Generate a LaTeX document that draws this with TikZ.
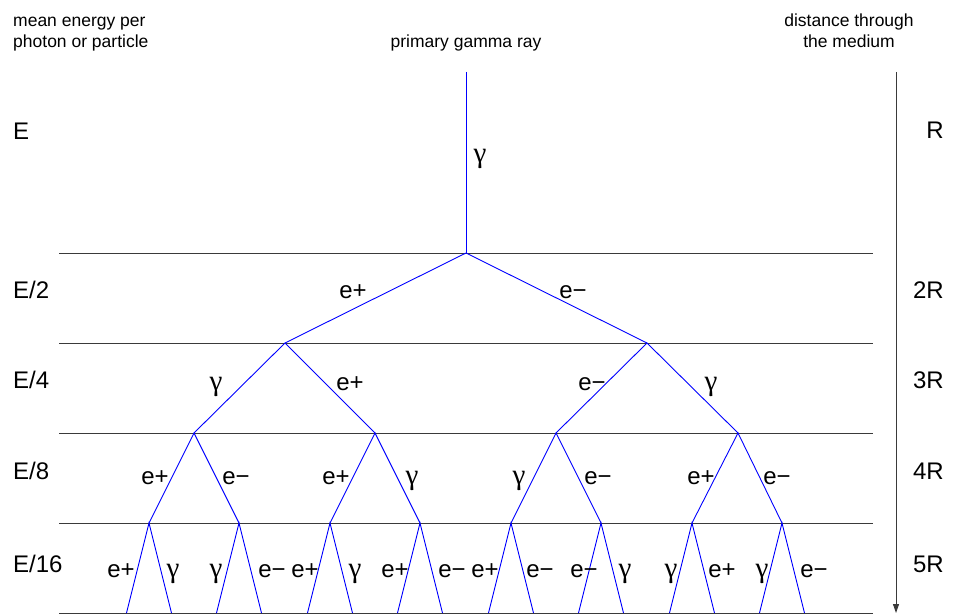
\documentclass[tikz,border=0pt]{standalone}
\usepackage{fontspec}
\setmainfont{Liberation Sans}
\newfontfamily\grk{Liberation Serif}
\usetikzlibrary{arrows.meta}
\definecolor{trackblue}{HTML}{0000FF}
\definecolor{rule}{HTML}{3A3A3A}
\newcommand{\gam}{{\grk\fontsize{29}{30}\selectfont γ}}

\begin{document}
\begin{tikzpicture}[x=1pt, y=-1pt,
  level/.style={rule, line width=0.9pt},
  track/.style={trackblue, line width=0.9pt},
  big/.style={font=\fontsize{24}{28}\selectfont, inner sep=0pt, anchor=base},
  note/.style={font=\fontsize{17.5}{21}\selectfont, inner sep=0pt, anchor=base}]

\useasboundingbox (0,0) rectangle (953,615);

%% Header texts
\node[note, anchor=base west, align=left] (hdrE) at (13,48) {mean energy per\\photon or particle};
\node[note] (hdrP) at (466,48) {primary gamma ray};
\node[note, align=center] (hdrD) at (849,48) {distance through\\the medium};

%% Generation lines
\draw[level] (59,253) -- (873,253);
\draw[level] (59,343) -- (873,343);
\draw[level] (59,433) -- (873,433);
\draw[level] (59,523) -- (873,523);
\draw[level] (59,613) -- (873,613);

%% Energy labels (left)
\node[big, anchor=base west] (enA) at (13,140) {E};
\node[big, anchor=base west] (enB) at (13,298) {E/2};
\node[big, anchor=base west] (enC) at (13,388) {E/4};
\node[big, anchor=base west] (enD) at (13,479) {E/8};
\node[big, anchor=base west] (enE) at (13,572) {E/16};

%% Distance labels (right)
\node[big, anchor=base east] (dsA) at (944,139) {R};
\node[big, anchor=base east] (dsB) at (944,298) {2R};
\node[big, anchor=base east] (dsC) at (944,388) {3R};
\node[big, anchor=base east] (dsD) at (944,479) {4R};
\node[big, anchor=base east] (dsE) at (944,572) {5R};

% Distance arrow
\coordinate (dTop) at (896,72);
\coordinate (dBot) at (896,613);
\draw[rule, line width=0.9pt, -{Triangle[length=9pt, width=6pt]}] (dTop) -- (dBot);

%% Shower vertices
\coordinate (src) at (466,72);
\coordinate (v0) at (466,253);
\coordinate (v1a) at (285,343);
\coordinate (v1b) at (647,343);
\coordinate (v2a) at (194,433);
\coordinate (v2b) at (375,433);
\coordinate (v2c) at (556,433);
\coordinate (v2d) at (738,433);
\coordinate (v3a) at (149,523);
\coordinate (v3b) at (239,523);
\coordinate (v3c) at (330,523);
\coordinate (v3d) at (420,523);
\coordinate (v3e) at (511,523);
\coordinate (v3f) at (601,523);
\coordinate (v3g) at (692,523);
\coordinate (v3h) at (782,523);

% Free ends on the bottom line
\coordinate (w1) at (126.5,613);  \coordinate (w2) at (171.5,613);
\coordinate (w3) at (216.5,613);  \coordinate (w4) at (261.5,613);
\coordinate (w5) at (307.5,613);  \coordinate (w6) at (352.5,613);
\coordinate (w7) at (397.5,613);  \coordinate (w8) at (442.5,613);
\coordinate (w9) at (488.5,613);  \coordinate (w10) at (533.5,613);
\coordinate (w11) at (578.5,613); \coordinate (w12) at (623.5,613);
\coordinate (w13) at (669.5,613); \coordinate (w14) at (714.5,613);
\coordinate (w15) at (759.5,613); \coordinate (w16) at (804.5,613);

%% Tracks
\draw[track] (src) -- (v0);
\draw[track] (v1a) -- (v0) -- (v1b);
\draw[track] (v2a) -- (v1a) -- (v2b);
\draw[track] (v2c) -- (v1b) -- (v2d);
\draw[track] (v3a) -- (v2a) -- (v3b);
\draw[track] (v3c) -- (v2b) -- (v3d);
\draw[track] (v3e) -- (v2c) -- (v3f);
\draw[track] (v3g) -- (v2d) -- (v3h);
\draw[track] (w1) -- (v3a) -- (w2);
\draw[track] (w3) -- (v3b) -- (w4);
\draw[track] (w5) -- (v3c) -- (w6);
\draw[track] (w7) -- (v3d) -- (w8);
\draw[track] (w9) -- (v3e) -- (w10);
\draw[track] (w11) -- (v3f) -- (w12);
\draw[track] (w13) -- (v3g) -- (w14);
\draw[track] (w15) -- (v3h) -- (w16);

%% Particle labels
\node[big] (pSrc) at (480,162) {\gam};

\node[big] (p1a) at (353,298) {e+};
\node[big] (p1b) at (573,298) {e−};

\node[big] (p2a) at (216,390) {\gam};
\node[big] (p2b) at (350,390) {e+};
\node[big] (p2c) at (592,390) {e−};
\node[big] (p2d) at (711,390) {\gam};

\node[big] (p3a) at (155,484) {e+};
\node[big] (p3b) at (236,484) {e−};
\node[big] (p3c) at (336,484) {e+};
\node[big] (p3d) at (412,484) {\gam};
\node[big] (p3e) at (519,484) {\gam};
\node[big] (p3f) at (598,484) {e−};
\node[big] (p3g) at (701,484) {e+};
\node[big] (p3h) at (777,484) {e−};

\node[big] (p4a) at (121,577) {e+};
\node[big] (p4b) at (173,577) {\gam};
\node[big] (p4c) at (216,577) {\gam};
\node[big] (p4d) at (272,577) {e−};
\node[big] (p4e) at (305,577) {e+};
\node[big] (p4f) at (355,577) {\gam};
\node[big] (p4g) at (395,577) {e+};
\node[big] (p4h) at (452,577) {e−};
\node[big] (p4i) at (485,577) {e+};
\node[big] (p4j) at (540,577) {e−};
\node[big] (p4k) at (584,577) {e−};
\node[big] (p4l) at (625,577) {\gam};
\node[big] (p4m) at (671,577) {\gam};
\node[big] (p4n) at (722,577) {e+};
\node[big] (p4o) at (762,577) {\gam};
\node[big] (p4p) at (814,577) {e−};

\end{tikzpicture}
\end{document}
